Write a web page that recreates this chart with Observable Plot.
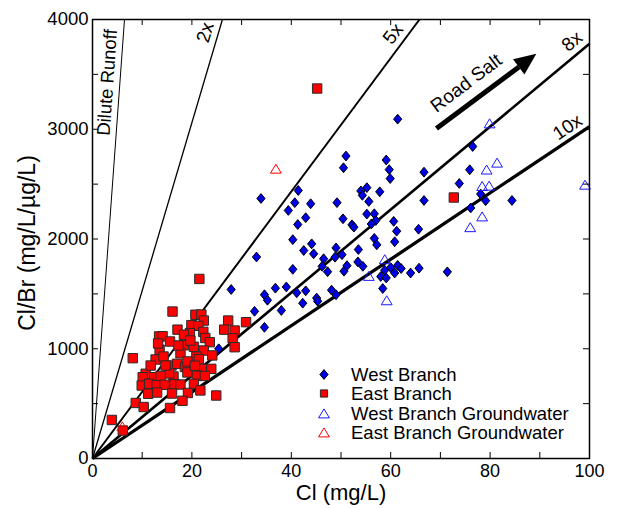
<!DOCTYPE html>
<html><head><meta charset="utf-8">
<script src="https://cdn.jsdelivr.net/npm/d3@7"></script>
<script src="https://cdn.jsdelivr.net/npm/@observablehq/plot@0.6"></script>
<style>
body{margin:0;background:#fff;font-family:"Liberation Sans",Arial,sans-serif}
#wrap{position:relative;width:617px;height:508px}
#legend{position:absolute;left:316px;top:365px;font-size:18.5px;line-height:19.3px;color:#000;font-family:"Liberation Sans",Arial,sans-serif}
.row{display:flex;align-items:center;height:19.3px;white-space:nowrap}
.row svg{flex:none}
</style></head><body>
<div id="wrap"><div id="chart"></div><div id="legend"></div></div>
<script>
// ---- data ----
const wbCl = [61.4,51.0,50.5,59.1,59.7,59.9,66.7,76.5,75.9,73.8,78.1,79.1,84.4,76.1,66.7,41.4,43.9,49.2,42.9,50.4,52.2,52.6,54.0,54.3,55.2,57.8,55.6,55.2,56.7,57.0,56.1,60.6,61.2,65.6,56.7,57.2,60.8,44.1,49.0,53.5,33.9,40.7,39.4,41.3,40.3,42.5,44.5,33.0,48.8,50.2,46.5,46.2,47.3,50.6,40.3,51.2,53.4,54.4,58.8,60.0,61.4,62.1,60.8,64.0,65.7,71.4,58.0,59.1,58.4,36.8,39.0,34.6,35.2,41.1,42.9,42.3,48.1,49.0,45.1,45.3,32.6,38.0,34.6,27.9,25.4];
const wbRatio = [3092,2756,2649,2720,2632,2551,2609,2843,2631,2506,2410,2349,2351,2283,2351,2442,2321,2331,2194,2184,2129,2108,2438,2398,2468,2430,2342,2227,2230,2169,2137,2161,2071,2089,2006,1947,1975,1956,1919,1904,2369,2331,2260,2132,1994,1895,1865,1836,1834,1857,1820,1751,1702,1707,1724,1757,1791,1751,1716,1740,1760,1731,1690,1690,1734,1701,1658,1645,1549,1552,1563,1492,1442,1510,1528,1415,1534,1492,1462,1433,1341,1349,1195,1540,1000];
const ebCl = [45.2,72.7,21.5,16.1,20.7,21.9,22.4,27.3,30.9,19.9,21.3,26.5,28.6,17.1,19.6,18.4,22.3,22.7,28.2,13.4,14.1,15.6,18.4,23.6,20.4,22.4,28.6,13.5,17.7,20.9,21.4,8.1,12.7,14.3,15.9,17.0,18.6,22.3,23.9,19.1,21.0,22.6,16.3,15.4,10.7,10.1,12.4,13.7,9.9,11.4,12.9,14.5,16.5,17.7,20.4,11.2,13.0,16.0,19.2,24.9,8.7,10.3,15.6,18.1,3.9,6.1,13.2,19.1,20.6,11.7,14.7,19.7,24.1,21.7,17.3];
const ebRatio = [3371,2378,1636,1339,1310,1312,1257,1257,1242,1215,1209,1174,1166,1174,1142,1128,1154,1098,1095,1112,1114,1066,1032,1060,1018,984,1014,991,959,929,905,914,902,929,847,863,834,817,817,784,754,752,747,775,772,741,741,752,665,681,668,672,677,674,681,590,601,592,597,574,506,469,460,526,351,255,1048,884,845,847,847,1075,939,620,1030];
const wgwCl = [79.9,81.4,79.3,78.4,79.8,78.4,76.0,99.1,58.8,55.6,59.2];
const wgwRatio = [3053,2695,2632,2482,2485,2205,2107,2494,1815,1663,1441];
const egwCl = [36.9,6.0];
const egwRatio = [2640,292];
const seriesNames = ["West Branch","East Branch","West Branch Groundwater","East Branch Groundwater"];
const refNames = ["Dilute Runoff","2x","5x","8x","10x"];
const refSlopes = [621,153,60.8,37.8,30.25];
const xTicks = [0,10,20,30,40,50,60,70,80,90,100];
const xTickLabels = [0,20,40,60,80,100];
const yTicks = [0,500,1000,1500,2000,2500,3000,3500,4000];
const yTickLabels = [0,1000,2000,3000,4000];

// ---- build ----
const zip = (xs, ys) => xs.map((x, i) => ({x, y: ys[i]}));
const west = zip(wbCl, wbRatio), east = zip(ebCl, ebRatio);
const westGW = zip(wgwCl, wgwRatio), eastGW = zip(egwCl, egwRatio);
const refLines = refNames.map((name, i) => {
  const s = refSlopes[i];
  const xe = Math.min(100, 4000 / s);
  return {name, x1: 0, y1: 0, x2: xe, y2: s * xe};
});
const lineW = {"Dilute Runoff": 1, "2x": 1.3, "5x": 2, "8x": 2.6, "10x": 3.3};

const diamondSym = {draw(c){c.moveTo(0,-4.9);c.lineTo(4.1,0);c.lineTo(0,4.9);c.lineTo(-4.1,0);c.closePath();}};
const squareSym = {draw(c){c.moveTo(-4.7,-4.7);c.lineTo(4.7,-4.7);c.lineTo(4.7,4.7);c.lineTo(-4.7,4.7);c.closePath();}};
const triSym = {draw(c){c.moveTo(0,-4.6);c.lineTo(5.4,4.4);c.lineTo(-5.4,4.4);c.closePath();}};
const headSym = {draw(c){c.moveTo(0,0);c.lineTo(-11.9,20.8);c.lineTo(-23.3,5.6);c.closePath();}};

const BLUE = "#0000e6", RED = "#ff0000", TBLUE = "#1a1aff";
const FONT = "'Liberation Sans', Arial, sans-serif";

const labels = [
  {t: "Dilute Runoff", x: 3.0, y: 3426, r: -86, s: 18.5},
  {t: "2x", x: 22.7, y: 3882, r: -73, s: 19},
  {t: "5x", x: 60.5, y: 3870, r: -52, s: 19},
  {t: "8x", x: 96.5, y: 3800, r: -40, s: 19},
  {t: "10x", x: 95.6, y: 3019, r: -34, s: 19},
  {t: "Road Salt", x: 75.2, y: 3420, r: -37, s: 19}
];

const chart = Plot.plot({
  width: 617, height: 508,
  marginLeft: 92, marginRight: 28, marginTop: 19, marginBottom: 50,
  x: {domain: [0, 100], axis: null},
  y: {domain: [0, 4000], axis: null},
  style: {fontFamily: FONT, background: "white", color: "black", overflow: "visible"},
  marks: [
    Plot.link(refLines, {x1: "x1", y1: "y1", x2: "x2", y2: "y2", stroke: "black", strokeWidth: d => lineW[d.name]}),
    Plot.link([{x1: 69.2, y1: 3007, x2: 85.8, y2: 3567}], {x1: "x1", y1: "y1", x2: "x2", y2: "y2", stroke: "black", strokeWidth: 5}),
    Plot.dot([{x: 89.3, y: 3688}], {x: "x", y: "y", symbol: headSym, fill: "black", stroke: "none"}),
    Plot.text(labels, {x: "x", y: "y", text: "t", rotate: "r", fontSize: "s", textAnchor: "middle", lineAnchor: "middle"}),
    Plot.dot(west, {x: "x", y: "y", symbol: diamondSym, fill: BLUE, stroke: "black", strokeWidth: 1}),
    Plot.dot(east, {x: "x", y: "y", symbol: squareSym, fill: RED, stroke: "#2a2a2a", strokeWidth: 1}),
    Plot.dot(westGW, {x: "x", y: "y", symbol: triSym, fill: "none", stroke: TBLUE, strokeWidth: 1}),
    Plot.dot(eastGW, {x: "x", y: "y", symbol: triSym, fill: "none", stroke: RED, strokeWidth: 1}),
    Plot.tickX(xTicks, {x: d => d, insetTop: 433, stroke: "black"}),
    Plot.tickX(xTicks, {x: d => d, insetBottom: 433, stroke: "black"}),
    Plot.tickY(yTicks, {y: d => d, insetRight: 491, stroke: "black"}),
    Plot.tickY(yTicks, {y: d => d, insetLeft: 491, stroke: "black"}),
    Plot.text(xTickLabels, {x: d => d, text: d => String(d), frameAnchor: "bottom", dy: 13, fontSize: 18, textAnchor: "middle", lineAnchor: "middle"}),
    Plot.text(yTickLabels, {y: d => d, text: d => String(d), frameAnchor: "left", dx: -4, fontSize: 18.5, textAnchor: "end", lineAnchor: "middle"}),
    Plot.text(["Cl (mg/L)"], {text: d => d, frameAnchor: "bottom", dy: 34, fontSize: 22, textAnchor: "middle", lineAnchor: "middle"}),
    Plot.text(["Cl/Br (mg/L/µg/L)"], {text: d => d, frameAnchor: "left", dx: -65, dy: 4, rotate: -90, fontSize: 23, textAnchor: "middle", lineAnchor: "middle"}),
    Plot.frame({stroke: "black", strokeWidth: 1.5})
  ]
});
document.getElementById("chart").appendChild(chart);

// ---- legend ----
const legendSym = [
  {p: "M0,-4.9L4.1,0L0,4.9L-4.1,0Z", fill: BLUE, stroke: "#000"},
  {p: "M-3.6,-3.6H3.6V3.6H-3.6Z", fill: RED, stroke: "#2a2a2a"},
  {p: "M0,-4.6L5.4,4.4L-5.4,4.4Z", fill: "none", stroke: TBLUE},
  {p: "M0,-4.6L5.4,4.4L-5.4,4.4Z", fill: "none", stroke: RED}
];
const leg = document.getElementById("legend");
seriesNames.forEach((name, i) => {
  const s = legendSym[i];
  const row = document.createElement("div");
  row.className = "row";
  row.innerHTML = `<svg width="35" height="19" viewBox="0 0 35 19"><path transform="translate(8,9.5)" d="${s.p}" fill="${s.fill}" stroke="${s.stroke}" stroke-width="1"/></svg><span>${name}</span>`;
  leg.appendChild(row);
});
</script></body></html>
